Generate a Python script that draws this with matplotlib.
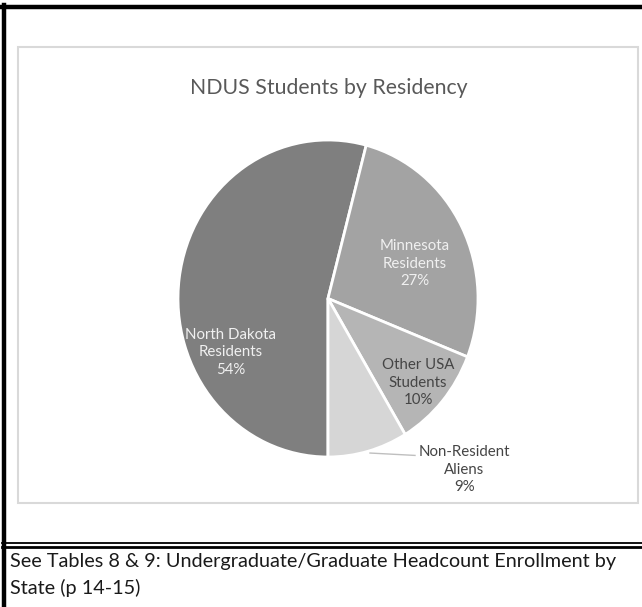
import matplotlib
matplotlib.use('Agg')
import matplotlib.pyplot as plt
from matplotlib.patches import Rectangle
from matplotlib.lines import Line2D

plt.rcParams['font.family'] = ['Lato', 'DejaVu Sans']

# data
categories = ['North Dakota\nResidents', 'Minnesota\nResidents', 'Other USA\nStudents', 'Non-Resident\nAliens']
shares = [54.1, 26.9, 10.4, 8.6]
colors = ['#7f7f7f', '#a3a3a3', '#b5b5b5', '#d6d6d6']
label_colors = ['#f0f0f0', '#f0f0f0', '#454545', '#454545']
# label spots in pie coords (radius 1)
label_pos = [(-0.65, -0.34), (0.58, 0.22), (0.60, -0.53), (0.91, -1.08)]

title = 'NDUS Students by Residency'
note = ('See Tables 8 & 9: Undergraduate/Graduate Headcount Enrollment by\n'
        'State (p 14-15)')

W, H = 642, 607
fig = plt.figure(figsize=(W / 100, H / 100), dpi=100)

# frames drawn in pixel-ish figure coords
bg = fig.add_axes([0, 0, 1, 1])
bg.set_xlim(0, W)
bg.set_ylim(H, 0)
bg.axis('off')
bg.add_patch(Rectangle((18, 47), 620, 456, fill=False, ec='#d9d9d9', lw=1.5))
bg.add_line(Line2D([0, W], [7, 7], color='black', lw=3.2))
bg.add_line(Line2D([4, 4], [5, H], color='black', lw=3.2))
bg.add_line(Line2D([2, W], [543, 543], color='black', lw=1.3))
bg.add_line(Line2D([2, W], [546.5, 546.5], color='black', lw=2.0))
bg.text(329, 88, title, ha='center', va='center', fontsize=15.3, color='#595959')
bg.text(10, 575, note, ha='left', va='center', fontsize=14.3, color='#1a1a1a',
        linespacing=1.6)

# pie, slightly taller than wide like the source
ax = fig.add_axes([178 / W, (H - 457) / H, 300 / W, 317 / H])
wedges, _ = ax.pie(shares, colors=colors, startangle=-90, counterclock=False,
                   wedgeprops=dict(edgecolor='white', linewidth=2))
ax.set_aspect('auto')
ax.set_xlim(-1, 1)
ax.set_ylim(-1, 1)
ax.axis('off')

for name, s, (x, y), c in zip(categories, shares, label_pos, label_colors):
    ax.text(x, y, f'{name}\n{s:.0f}%', ha='center', va='center', fontsize=10.8,
            color=c, linespacing=1.3)

# leader line for the small outside label
ax.plot([0.28, 0.58], [-0.975, -0.99], color='#bfbfbf', lw=1, clip_on=False)

fig.savefig('out.png', dpi=100)
